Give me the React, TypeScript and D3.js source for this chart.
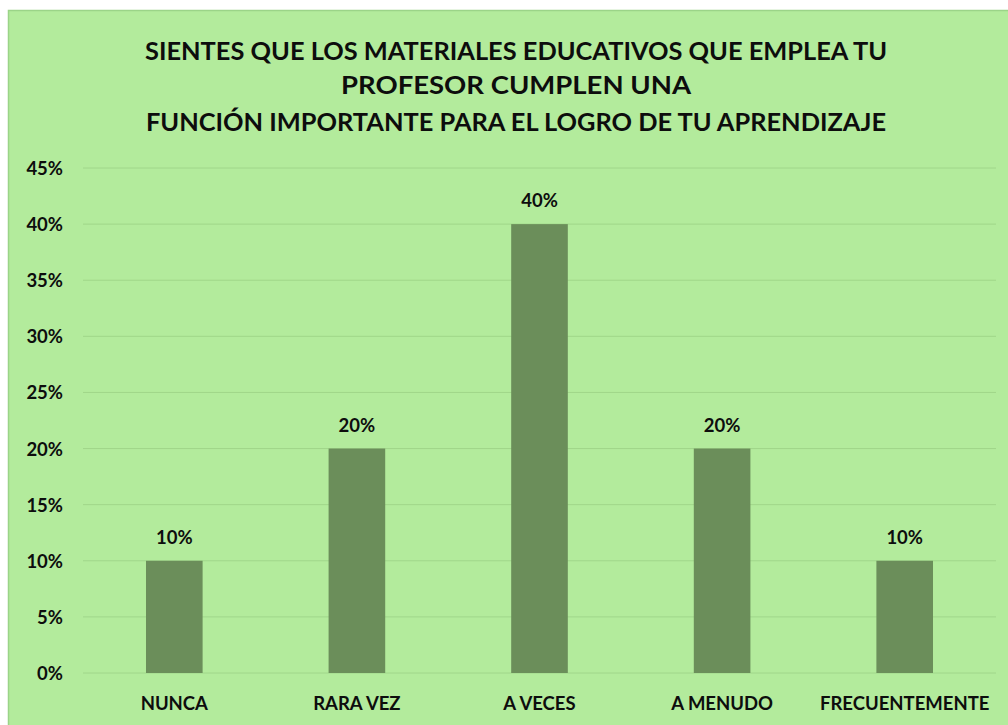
import React from "react";
import * as d3 from "d3";

const categories = ["NUNCA", "RARA VEZ", "A VECES", "A MENUDO", "FRECUENTEMENTE"];
const values = [0.1, 0.2, 0.4, 0.2, 0.1];
const yTicks = [0, 0.05, 0.1, 0.15, 0.2, 0.25, 0.3, 0.35, 0.4, 0.45];
const titleLines = [
  "SIENTES QUE LOS MATERIALES EDUCATIVOS QUE EMPLEA TU",
  "PROFESOR CUMPLEN UNA",
  "FUNCIÓN IMPORTANTE PARA EL LOGRO DE TU APRENDIZAJE",
];

const W = 1008;
const H = 725;
const FONT = "Lato, 'Open Sans', sans-serif";

export default function App() {
  const x = d3
    .scaleBand<string>()
    .domain(categories)
    .range([83, 996])
    .paddingInner(0.69)
    .paddingOuter(0.345);
  const y = d3.scaleLinear().domain([0, 0.45]).range([673, 168]);
  const fmt = d3.format(".0%");
  const titleY = [50, 84, 121];
  const titleLens = [742, 350, 740];
  const LS = 18.5;

  return (
    <svg
      width={W}
      height={H}
      style={{ position: "absolute", left: 0, top: 0, display: "block" }}
    >
      <rect x={8.5} y={10.5} width={W} height={H} fill="#b3eb9c" stroke="#9bd488" strokeWidth={1.5} />
      {titleLines.map((t, i) => (
        <text
          key={i}
          x={516}
          y={titleY[i]}
          textAnchor="middle"
          dominantBaseline="central"
          fontFamily={FONT}
          fontWeight={700}
          fontSize={24}
          fill="#0d0d0d"
          textLength={titleLens[i]}
          lengthAdjust="spacingAndGlyphs"
        >
          {t}
        </text>
      ))}
      {yTicks.map((t) => (
        <g key={t}>
          <line x1={83} x2={996} y1={y(t)} y2={y(t)} stroke="#a0d68a" strokeWidth={1} />
          <text
            x={63}
            y={y(t)}
            textAnchor="end"
            dominantBaseline="central"
            fontFamily={FONT}
            fontWeight={700}
            fontSize={LS}
            fill="#0d0d0d"
          >
            {fmt(t)}
          </text>
        </g>
      ))}
      {categories.map((c, i) => (
        <g key={c}>
          <rect
            x={x(c)}
            y={y(values[i])}
            width={x.bandwidth()}
            height={y(0) - y(values[i])}
            fill="#6b8e5a"
          />
          <text
            x={(x(c) as number) + x.bandwidth() / 2}
            y={y(values[i]) - 24}
            textAnchor="middle"
            dominantBaseline="central"
            fontFamily={FONT}
            fontWeight={700}
            fontSize={LS}
            fill="#0d0d0d"
          >
            {fmt(values[i])}
          </text>
          <text
            x={(x(c) as number) + x.bandwidth() / 2}
            y={703}
            textAnchor="middle"
            dominantBaseline="central"
            fontFamily={FONT}
            fontWeight={700}
            fontSize={LS}
            fill="#0d0d0d"
          >
            {c}
          </text>
        </g>
      ))}
    </svg>
  );
}
